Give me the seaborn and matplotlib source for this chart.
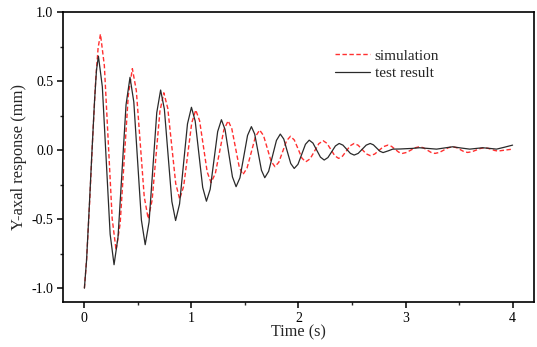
import pandas as pd
import matplotlib
matplotlib.use("Agg")
import matplotlib.pyplot as plt
import seaborn as sns
from matplotlib.ticker import MultipleLocator

# test result (black)
test_time = [
    0.000, 0.020, 0.045, 0.070, 0.095, 0.113, 0.131,
    0.1675, 0.204, 0.2405, 0.277,
    0.314, 0.3515, 0.389, 0.426,
    0.4615, 0.497, 0.5325, 0.568,
    0.604, 0.640, 0.676, 0.712,
    0.747, 0.782, 0.817, 0.852,
    0.889, 0.926, 0.963, 1.000,
    1.035, 1.070, 1.105, 1.140,
    1.175, 1.210, 1.245, 1.280,
    1.314, 1.3485, 1.383, 1.417,
    1.453, 1.4885, 1.524, 1.560,
    1.591, 1.6225, 1.654, 1.685,
    1.721, 1.7575, 1.794, 1.830,
    1.8625, 1.895, 1.9275, 1.960,
    1.995, 2.030, 2.065, 2.100,
    2.135, 2.170, 2.205, 2.240,
    2.275, 2.310, 2.345, 2.380,
    2.415, 2.450, 2.485, 2.520,
    2.5575, 2.595, 2.6325, 2.670,
    2.700, 2.730, 2.760, 2.790,
    2.840, 2.880, 2.950, 3.000, 3.060, 3.130, 3.210, 3.290, 3.360,
    3.440, 3.520, 3.600, 3.660, 3.720, 3.790, 3.850, 3.920, 4.000,
]
test_resp = [
    -1.00, -0.80, -0.42, -0.02, 0.36, 0.58, 0.68,
    0.459, -0.075, -0.609, -0.83,
    -0.631, -0.152, 0.328, 0.527,
    0.349, -0.079, -0.507, -0.685,
    -0.521, -0.125, 0.271, 0.435,
    0.297, -0.038, -0.372, -0.51,
    -0.39, -0.10, 0.19, 0.31,
    0.210, -0.03, -0.27, -0.37,
    -0.284, -0.075, 0.134, 0.22,
    0.149, -0.023, -0.194, -0.265,
    -0.201, -0.048, 0.106, 0.17,
    0.116, -0.015, -0.146, -0.20,
    -0.154, -0.042, 0.070, 0.116,
    0.080, -0.009, -0.097, -0.133,
    -0.103, -0.031, 0.042, 0.072,
    0.051, 0.000, -0.051, -0.072,
    -0.054, -0.012, 0.030, 0.048,
    0.036, 0.006, -0.024, -0.036,
    -0.024, 0.006, 0.036, 0.048,
    0.038, 0.015, -0.008, -0.018,
    -0.005, 0.007, 0.008, 0.010, 0.012, 0.017, 0.012, 0.007, 0.015,
    0.024, 0.015, 0.007, 0.012, 0.017, 0.012, 0.007, 0.020, 0.036,
]

# simulation (red dashed)
sim_time = [
    0.000, 0.020, 0.050, 0.080, 0.105, 0.128, 0.150,
    0.1865, 0.223, 0.2595, 0.296,
    0.334, 0.372, 0.410, 0.448,
    0.485, 0.522, 0.559, 0.596,
    0.6325, 0.669, 0.7055, 0.742,
    0.779, 0.816, 0.853, 0.890,
    0.9275, 0.965, 1.0025, 1.040,
    1.076, 1.1115, 1.147, 1.183,
    1.223, 1.263, 1.303, 1.343,
    1.377, 1.4115, 1.446, 1.480,
    1.519, 1.5585, 1.598, 1.637,
    1.673, 1.7085, 1.744, 1.780,
    1.816, 1.8525, 1.889, 1.925,
    1.961, 1.9965, 2.032, 2.068,
    2.1085, 2.149, 2.1895, 2.230,
    2.266, 2.3025, 2.339, 2.375,
    2.411, 2.4475, 2.484, 2.520,
    2.5575, 2.595, 2.6325, 2.670,
    2.711, 2.7525, 2.794, 2.835,
    2.869, 2.9025, 2.936, 2.970,
    3.010, 3.050, 3.090, 3.130,
    3.166, 3.2025, 3.239, 3.275,
    3.316, 3.3575, 3.399, 3.440,
    3.475, 3.510, 3.545, 3.580,
    3.620, 3.660, 3.700, 3.740,
    3.771, 3.8025, 3.834, 3.865,
    3.930, 4.000,
]
sim_resp = [
    -1.00, -0.80, -0.36, 0.13, 0.50, 0.74, 0.84,
    0.611, 0.058, -0.496, -0.725,
    -0.532, -0.068, 0.397, 0.59,
    0.431, 0.047, -0.338, -0.497,
    -0.363, -0.041, 0.281, 0.415,
    0.302, 0.030, -0.242, -0.355,
    -0.261, -0.033, 0.196, 0.29,
    0.213, 0.028, -0.158, -0.235,
    -0.170, -0.012, 0.147, 0.212,
    0.155, 0.017, -0.121, -0.178,
    -0.131, -0.017, 0.098, 0.145,
    0.106, 0.013, -0.081, -0.12,
    -0.088, -0.010, 0.068, 0.10,
    0.073, 0.008, -0.058, -0.085,
    -0.063, -0.009, 0.046, 0.068,
    0.049, 0.004, -0.041, -0.06,
    -0.044, -0.006, 0.032, 0.048,
    0.035, 0.004, -0.027, -0.04,
    -0.029, -0.002, 0.025, 0.036,
    0.027, 0.006, -0.015, -0.024,
    -0.017, 0.000, 0.017, 0.024,
    0.017, 0.000, -0.017, -0.024,
    -0.017, 0.000, 0.017, 0.024,
    0.018, 0.004, -0.011, -0.017,
    -0.012, 0.000, 0.012, 0.017,
    0.013, 0.005, -0.003, -0.007,
    0.000, 0.007,
]

sns.set_theme(style="ticks")
plt.rcParams['font.family'] = ['Liberation Serif', 'DejaVu Serif']

fig = plt.figure(figsize=(5.37, 3.47), dpi=100)
ax = fig.add_axes([0.1173, 0.1297, 0.8771, 0.8357])

df_sim = pd.DataFrame({'t': sim_time, 'y': sim_resp})
df_test = pd.DataFrame({'t': test_time, 'y': test_resp})

sns.lineplot(data=df_sim, x='t', y='y', ax=ax, color='#ff3030', lw=1.0,
             estimator=None, sort=False, label='simulation')
sns.lineplot(data=df_test, x='t', y='y', ax=ax, color='#2a2a2a', lw=0.9,
             estimator=None, sort=False, label='test result')
ax.lines[0].set_dashes((3.2, 1.8))

ax.set_xlim(-0.2, 4.2)
ax.set_ylim(-1.1, 1.0)
ax.xaxis.set_major_locator(MultipleLocator(1))
ax.xaxis.set_minor_locator(MultipleLocator(0.5))
ax.yaxis.set_minor_locator(MultipleLocator(0.25))
ax.set_yticks([-1.0, -0.5, 0.0, 0.5, 1.0])
ax.set_yticklabels(['-1.0', '-0.5', '0.0', '0.5', '1.0'])

ax.tick_params(which='major', direction='out', length=4, width=1.1,
               labelsize=10, colors='black', pad=3)
ax.tick_params(which='minor', direction='out', length=2.5, width=1.0)
ax.tick_params(top=False, right=False, which='both')
for sp in ax.spines.values():
    sp.set_visible(True)
    sp.set_linewidth(1.2)
    sp.set_color('black')

ax.set_xlabel('Time (s)', fontsize=11.7, labelpad=0)
ax.set_ylabel('Y-axal response (mm)', fontsize=11.9, labelpad=3)

ax.legend(loc='upper left', bbox_to_anchor=(0.548, 0.92), frameon=False,
          fontsize=11, handlelength=2.3, handletextpad=0.3, labelspacing=0.25)

fig.savefig('out.png', dpi=100)
plt.close(fig)
